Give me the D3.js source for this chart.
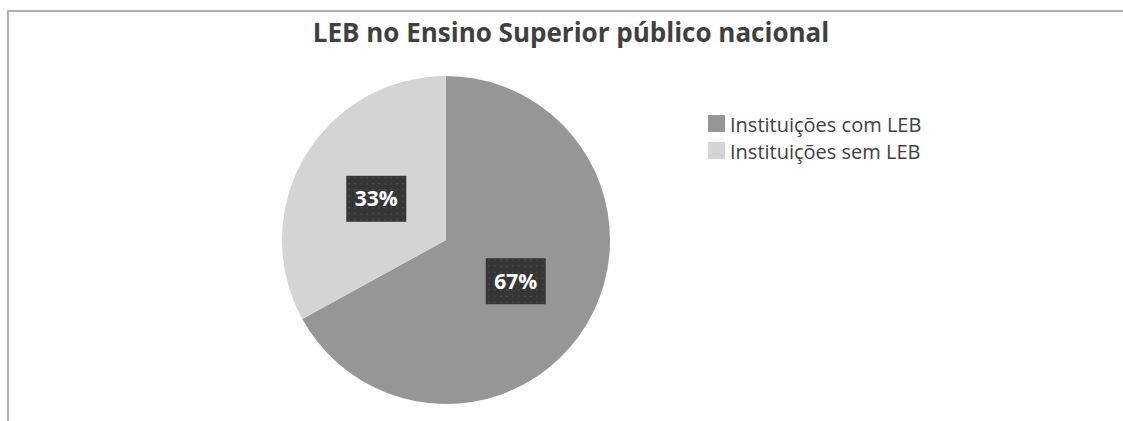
<!DOCTYPE html>
<html>
<head>
<meta charset="utf-8">
<script src="https://cdn.jsdelivr.net/npm/d3@7"></script>
<style>
  body { margin: 0; background: #fff; }
  svg { display: block; }
</style>
</head>
<body>
<div id="chart"></div>
<script>
const categories = ['Instituições com LEB', 'Instituições sem LEB'];
const values = [67, 33];
const colors = ['#969696', '#d4d4d4'];
const title = 'LEB no Ensino Superior público nacional';

const width = 1123;
const height = 421;
const font = '"Open Sans", "DejaVu Sans", sans-serif';

const svg = d3.select('#chart').append('svg')
  .attr('width', width)
  .attr('height', height);

// dotted fill for the label boxes
const pat = svg.append('defs').append('pattern')
  .attr('id', 'dots')
  .attr('width', 6)
  .attr('height', 6)
  .attr('patternUnits', 'userSpaceOnUse');
pat.append('rect').attr('width', 6).attr('height', 6).attr('fill', '#353535');
pat.append('circle').attr('cx', 3).attr('cy', 3).attr('r', 1).attr('fill', '#4a4a4a');

// chart area border (top and left visible)
svg.append('path')
  .attr('d', `M8,${height} V11 H${width}`)
  .attr('fill', 'none')
  .attr('stroke', '#b0b0b0')
  .attr('stroke-width', 2);

svg.append('text')
  .attr('x', 571)
  .attr('y', 42)
  .attr('text-anchor', 'middle')
  .attr('font-family', font)
  .attr('font-weight', 'bold')
  .attr('font-size', 26)
  .attr('fill', '#404040')
  .text(title);

const cx = 446, cy = 240, r = 164;
const pie = d3.pie().sort(null).value(d => d)(values);
const arc = d3.arc().innerRadius(0).outerRadius(r);
const labelArc = d3.arc().innerRadius(81).outerRadius(81);

const g = svg.append('g').attr('transform', `translate(${cx},${cy})`);

g.selectAll('path.slice')
  .data(pie)
  .join('path')
  .attr('class', 'slice')
  .attr('d', arc)
  .attr('fill', (d, i) => colors[i]);

const lbl = g.selectAll('g.lbl')
  .data(pie)
  .join('g')
  .attr('class', 'lbl')
  .attr('transform', d => `translate(${labelArc.centroid(d)})`);

lbl.append('rect')
  .attr('x', -30)
  .attr('y', -23)
  .attr('width', 60)
  .attr('height', 46)
  .attr('fill', 'url(#dots)');

lbl.append('text')
  .attr('text-anchor', 'middle')
  .attr('dy', '0.35em')
  .attr('font-family', font)
  .attr('font-weight', 'bold')
  .attr('font-size', 21)
  .attr('fill', '#fff')
  .text(d => d.data + '%');

const legend = svg.append('g').attr('transform', 'translate(708,115)');
const item = legend.selectAll('g')
  .data(categories)
  .join('g')
  .attr('transform', (d, i) => `translate(0,${i * 27})`);

item.append('rect')
  .attr('width', 17)
  .attr('height', 17)
  .attr('fill', (d, i) => colors[i]);

item.append('text')
  .attr('x', 22)
  .attr('y', 10)
  .attr('dy', '0.35em')
  .attr('font-family', font)
  .attr('font-size', 20)
  .attr('fill', '#404040')
  .text(d => d);
</script>
</body>
</html>
